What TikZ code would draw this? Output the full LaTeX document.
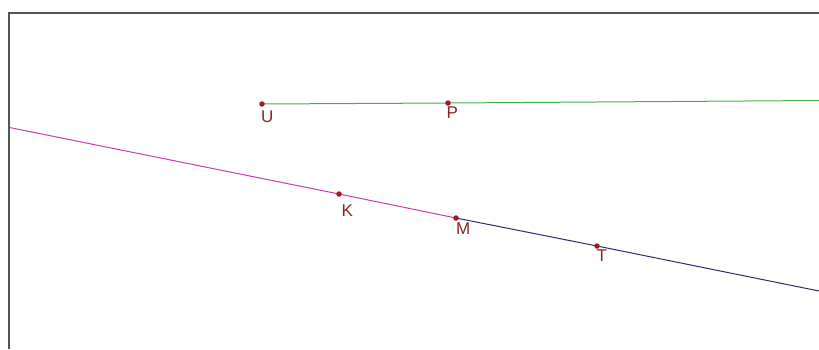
\documentclass[tikz,border=0pt]{standalone}
\usepackage{fontspec}
\setmainfont{Liberation Sans}
\definecolor{ptcol}{RGB}{165,25,35}
\definecolor{lblcol}{RGB}{140,35,40}
\definecolor{greenln}{RGB}{70,175,70}
\definecolor{magln}{RGB}{205,60,160}
\definecolor{blueln}{RGB}{50,40,110}
\definecolor{framecol}{RGB}{85,85,85}
\begin{document}
\begin{tikzpicture}[x=1pt,y=-1pt,
  pt/.style={circle,fill=ptcol,inner sep=0pt,minimum size=5.5pt},
  lbl/.style={text=lblcol,font=\fontsize{17}{17}\selectfont,inner sep=0pt,anchor=north west}]
\useasboundingbox (0,0) rectangle (819,349);
% frame
\draw[framecol,line width=2pt] (8.5,349) -- (8.5,13) -- (819,13);
% point positions
\coordinate (U) at (262,104);
\coordinate (P) at (448,103);
\coordinate (K) at (339,194);
\coordinate (M) at (456,218);
\coordinate (T) at (597,246);
\coordinate (Gend) at (819,100.5);
\coordinate (Lstart) at (9.5,127.5);
\coordinate (Rend) at (819,291);
% lines
\draw[greenln,line width=1pt] (U) -- (P) -- (Gend);
\draw[magln,line width=1pt] (Lstart) -- (K) -- (M);
\draw[blueln,line width=1pt] (M) -- (T) -- (Rend);
% points
\node[pt] (Up) at (U) {};
\node[pt] (Pp) at (P) {};
\node[pt] (Kp) at (K) {};
\node[pt] (Mp) at (M) {};
\node[pt] (Tp) at (T) {};
% labels
\node[lbl] (Ul) at (261,111) {U};
\node[lbl] (Pl) at (446.5,107) {P};
\node[lbl] (Kl) at (341.5,205) {K};
\node[lbl] (Ml) at (456,223) {M};
\node[lbl] (Tl) at (596.5,249.5) {T};
\end{tikzpicture}
\end{document}
